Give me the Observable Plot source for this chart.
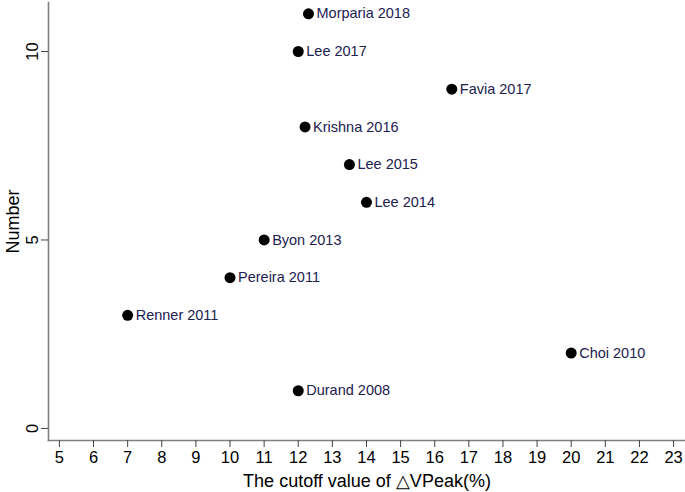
<!DOCTYPE html>
<html>
<head>
<meta charset="utf-8">
<script src="https://cdn.jsdelivr.net/npm/d3@7"></script>
<script src="https://cdn.jsdelivr.net/npm/@observablehq/plot@0.6"></script>
<style>
body { margin: 0; background: #fff; }
</style>
</head>
<body>
<div id="chart"></div>
<script>
const studies = ["Morparia 2018","Lee 2017","Favia 2017","Krishna 2016","Lee 2015","Lee 2014","Byon 2013","Pereira 2011","Renner 2011","Choi 2010","Durand 2008"];
const cutoff = [12.3, 12, 16.5, 12.2, 13.5, 14, 11, 10, 7, 20, 12];
const number = [11, 10, 9, 8, 7, 6, 5, 4, 3, 2, 1];
const xTicks = d3.range(5, 24);
const yTicks = [0, 5, 10];

const data = studies.map((s, i) => ({study: s, x: cutoff[i], y: number[i]}));

const chart = Plot.plot({
  width: 685,
  height: 492,
  marginLeft: 48,
  marginRight: 0,
  marginTop: 2,
  marginBottom: 52,
  style: {fontFamily: "'Liberation Sans', Arial, sans-serif", background: "#fff"},
  x: {domain: [4.68, 23.35]},
  y: {domain: [-0.32, 11.3]},
  marks: [
    Plot.frame({anchor: "left", stroke: "#808080", strokeWidth: 1.6, strokeOpacity: 1}),
    Plot.frame({anchor: "bottom", stroke: "#808080", strokeWidth: 1.6, strokeOpacity: 1}),
    Plot.axisX({ticks: xTicks, tickSize: 7, tickPadding: 4, fontSize: 16.5, color: "#000", stroke: "#444",
      label: "The cutoff value of △VPeak(%)", labelAnchor: "center", labelArrow: "none", labelOffset: 46}),
    Plot.axisY({ticks: yTicks, tickSize: 7, tickPadding: 4, fontSize: 16.5, tickRotate: -90, color: "#000", stroke: "#444",
      label: "Number", labelAnchor: "center", labelArrow: "none", labelOffset: 42}),
    Plot.dot(data, {x: "x", y: "y", r: 5.5, fill: "#000", stroke: "none"}),
    Plot.text(data, {x: "x", y: "y", text: "study", textAnchor: "start", dx: 8, fontSize: 14.5, fill: "#1c2150"})
  ]
});
chart.querySelectorAll("[aria-label='x-axis label'] text, [aria-label='y-axis label'] text").forEach(t => {
  t.setAttribute("font-size", "18");
  t.style.fontSize = "18px";
});
document.getElementById("chart").appendChild(chart);
</script>
</body>
</html>
